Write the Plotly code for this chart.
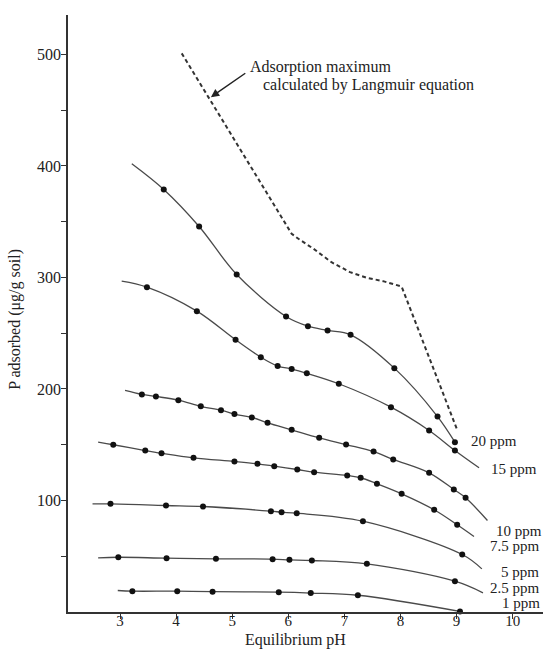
import plotly.graph_objects as go

# ---------------- data ----------------
series_names = ["1 ppm", "2.5 ppm", "5 ppm", "7.5 ppm", "10 ppm", "15 ppm", "20 ppm"]

# measured points
ph_1 = [3.22, 4.02, 4.65, 5.83, 6.40, 7.24, 9.06]
p_1 = [18.7, 18.7, 18.2, 17.8, 17.0, 15.0, 0.5]

ph_2_5 = [2.97, 3.83, 4.71, 5.72, 6.02, 6.42, 7.40, 8.97]
p_2_5 = [49.1, 48.3, 47.7, 47.4, 46.8, 46.2, 43.2, 27.6]

ph_5 = [2.83, 3.82, 4.48, 5.69, 5.88, 6.15, 7.33, 9.10]
p_5 = [97.0, 95.5, 94.6, 90.4, 89.5, 88.6, 81.4, 51.6]

ph_7_5 = [2.88, 3.45, 3.74, 4.31, 5.04, 5.45, 5.75, 6.16, 6.46, 7.05, 7.29, 7.58, 8.02, 8.60, 9.01]
p_7_5 = [150.0, 144.8, 142.4, 138.3, 135.0, 132.9, 130.8, 127.8, 125.4, 122.4, 120.4, 115.0, 106.0, 91.7, 78.2]

ph_10 = [3.39, 3.64, 4.04, 4.44, 4.80, 5.04, 5.35, 5.63, 6.06, 6.55, 7.03, 7.52, 7.87, 8.51, 8.95, 9.16]
p_10 = [195.1, 193.3, 190.0, 184.5, 181.0, 177.5, 174.5, 169.7, 163.4, 156.2, 150.2, 143.9, 136.8, 124.8, 109.9, 102.4]

ph_15 = [3.48, 4.37, 5.06, 5.51, 5.81, 6.06, 6.33, 6.90, 7.83, 8.51, 8.97]
p_15 = [291.3, 269.8, 244.1, 228.5, 220.6, 217.9, 214.1, 204.7, 183.7, 162.8, 144.8]

ph_20 = [3.78, 4.41, 5.08, 5.96, 6.35, 6.70, 7.11, 7.89, 8.66, 8.97]
p_20 = [378.9, 345.7, 302.7, 265.0, 256.3, 252.5, 248.6, 218.7, 175.3, 152.3]

# where each fitted curve begins and ends (pH, P)
curve_start = [(2.96, 19.3), (2.61, 48.6), (2.51, 97.0), (2.61, 152.3), (3.09, 198.7), (3.03, 296.7), (3.21, 402.0)]
curve_end = [(9.06, 0.5), (9.47, 17.2), (9.45, 38.7), (9.31, 67.7), (9.55, 82.1), (9.40, 129.3), (8.97, 152.3)]

# Langmuir adsorption maximum (dashed)
langmuir_ph = [4.10, 6.06, 6.18, 6.45, 6.77, 7.10, 7.40, 7.69, 8.02, 9.01]
langmuir_p = [501.0, 339.2, 334.7, 325.7, 313.7, 304.8, 299.7, 296.7, 291.9, 163.4]

# curve label positions (pH, P)
label_pos = [(9.80, 8.0), (9.57, 21.5), (9.78, 35.9), (9.57, 59.5), (9.69, 73.0), (9.60, 128.4), (9.24, 153.2)]

x_ticks = [3, 4, 5, 6, 7, 8, 9, 10]
y_ticks = [100, 200, 300, 400, 500]

# ---------------- figure ----------------
FONT = "Liberation Serif"
INK = "#222222"
LINE = "#4a4a4a"

all_ph = [ph_1, ph_2_5, ph_5, ph_7_5, ph_10, ph_15, ph_20]
all_p = [p_1, p_2_5, p_5, p_7_5, p_10, p_15, p_20]

fig = go.Figure()

for name, xs, ys, s, e in zip(series_names, all_ph, all_p, curve_start, curve_end):
    lx = [s[0]] + xs + ([e[0]] if e[0] != xs[-1] else [])
    ly = [s[1]] + ys + ([e[1]] if e[0] != xs[-1] else [])
    fig.add_trace(go.Scatter(x=lx, y=ly, mode="lines",
                             line=dict(color=LINE, width=1.3, shape="spline", smoothing=1.0),
                             hoverinfo="skip", showlegend=False, cliponaxis=False))
    fig.add_trace(go.Scatter(x=xs, y=ys, mode="markers", name=name,
                             marker=dict(color="#111111", size=6),
                             showlegend=False, cliponaxis=False))

fig.add_trace(go.Scatter(x=langmuir_ph, y=langmuir_p, mode="lines",
                         line=dict(color="#333333", width=2, dash="4px,3px"),
                         showlegend=False, cliponaxis=False))

annotations = []
for name, (lx, ly) in zip(series_names, label_pos):
    annotations.append(dict(x=lx, y=ly, xref="x", yref="y", text=name, showarrow=False,
                            xanchor="left", yanchor="middle", borderpad=0,
                            font=dict(family=FONT, size=15, color=INK)))

annotations += [
    dict(x=5.287, y=488.6, xref="x", yref="y", text="Adsorption maximum", showarrow=False,
         xanchor="left", yanchor="middle", font=dict(family=FONT, size=16, color=INK)),
    dict(x=5.513, y=472.2, xref="x", yref="y", text="calculated by Langmuir equation", showarrow=False,
         xanchor="left", yanchor="middle", font=dict(family=FONT, size=16, color=INK)),
    dict(x=4.62, y=461.7, xref="x", yref="y", ax=5.26, ay=484.1, axref="x", ayref="y",
         text="", showarrow=True, arrowhead=2, arrowsize=1.1, arrowwidth=1.5, arrowcolor=INK, standoff=0),
    dict(x=0.478, y=-0.0475, xref="paper", yref="paper", text="Equilibrium pH", showarrow=False,
         xanchor="center", yanchor="middle", font=dict(family=FONT, size=16, color=INK)),
    dict(x=-0.1116, y=0.491, xref="paper", yref="paper", text="P adsorbed (μg/g soil)", showarrow=False,
         textangle=-90, xanchor="center", yanchor="middle", font=dict(family=FONT, size=16, color=INK)),
]

fig.update_layout(
    width=544, height=661, autosize=False,
    margin=dict(l=68, r=1, t=15, b=49, pad=0),
    paper_bgcolor="white", plot_bgcolor="white",
    font=dict(family=FONT, size=16, color=INK),
    annotations=annotations,
    showlegend=False,
)
fig.update_xaxes(range=[2.073, 10.54], tickvals=x_ticks, ticks="outside", ticklen=5, tickwidth=1.2,
                 tickcolor="#333", showline=True, linecolor="#333", linewidth=1.5,
                 showgrid=False, zeroline=False, ticklabelstandoff=-11,
                 tickfont=dict(family=FONT, size=15, color=INK))
fig.update_yaxes(range=[0, 535.4], tickvals=y_ticks, ticks="outside", ticklen=5, tickwidth=1.2,
                 tickcolor="#333", showline=True, linecolor="#333", linewidth=1.5,
                 showgrid=False, zeroline=False, ticklabelstandoff=-3,
                 tickfont=dict(family=FONT, size=16, color=INK),
                 minor=dict(tickvals=[50, 150, 250, 350, 450], ticks="outside", ticklen=5,
                            tickwidth=1.2, tickcolor="#333", showgrid=False))

fig.write_html("out.html")
